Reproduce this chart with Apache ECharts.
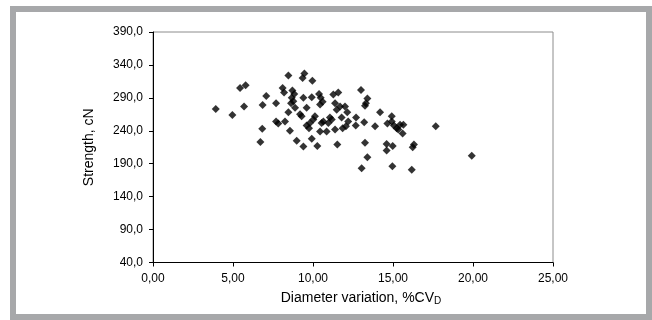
<!DOCTYPE html>
<html>
<head>
<meta charset="utf-8">
<script src="https://cdn.jsdelivr.net/npm/echarts@6/dist/echarts.min.js"></script>
<style>
    html, body { margin: 0; padding: 0; background: #fff; }
    #main { width: 652px; height: 320px; }
    #frame {
        position: absolute; left: 10px; top: 6px; width: 630px; height: 302px;
        border: 6px solid #a7a8aa; pointer-events: none;
    }
</style>
</head>
<body>
<div id="main"></div>
<div id="frame"></div>
<script>
// diameter variation, %CV_D
var cvD = [3.92, 4.96, 5.44, 5.79, 5.69, 6.71, 6.83, 6.85, 7.08, 7.69, 7.69, 7.83,
    8.46, 9.46, 9.35, 9.96, 8.10, 8.19, 8.71, 8.83, 8.67, 8.77, 8.63, 9.40, 9.92,
    10.38, 10.48, 10.60, 10.44, 11.27, 11.58, 13.00, 13.40, 13.31, 13.25, 14.19, 14.92,
    14.65, 14.92, 15.06, 15.23, 15.44, 15.65, 15.33, 15.60, 17.67, 13.88, 13.20,
    12.69, 12.67, 12.20, 11.79, 11.85, 12.06, 12.14, 12.00, 11.69, 11.48, 11.38,
    11.06, 11.17, 10.96, 11.38, 10.85, 10.54, 10.65, 10.44, 10.02, 9.81, 9.60, 9.75,
    10.12, 9.19, 9.29, 9.60, 8.88, 8.46, 8.25, 8.56, 8.98, 9.40, 9.92, 10.27, 11.52,
    13.25, 13.40, 13.04, 14.60, 14.98, 14.60, 14.96, 16.17, 16.23, 16.31, 19.92];
// strength, cN
var strength = [273, 264, 305, 309, 277, 223, 243, 279, 293, 282, 254, 251,
    324, 327, 320, 316, 305, 298, 301, 296, 290, 285, 282, 290, 291,
    296, 290, 284, 280, 295, 298, 302, 289, 282, 278, 268, 262,
    251, 254, 248, 244, 249, 249, 242, 236, 247, 247, 253,
    260, 248, 254, 260, 244, 247, 268, 277, 277, 272, 282,
    260, 257, 252, 242, 239, 252, 254, 239, 257, 252, 248, 244,
    262, 265, 262, 275, 275, 268, 254, 240, 225, 216, 228, 217, 219,
    222, 200, 183, 220, 217, 210, 186, 181, 215, 219, 202];

var xTicks = [0, 5, 10, 15, 20, 25];
var yTicks = [40, 90, 140, 190, 240, 290, 340, 390];

var points = [];
for (var i = 0; i < cvD.length; i++) {
    points.push([cvD[i], strength[i]]);
}

var myChart = echarts.init(document.getElementById('main'));

var option = {
    animation: false,
    textStyle: { fontFamily: 'Liberation Sans, Arial, sans-serif' },
    grid: {
        left: 153, right: 99, top: 32, bottom: 57.5,
        show: true, borderColor: '#8c8c8c', borderWidth: 1
    },
    xAxis: {
        type: 'value',
        min: xTicks[0], max: xTicks[xTicks.length - 1], interval: 5,
        name: '{a|Diameter variation, %CV}{b|D}',
        nameLocation: 'middle', nameGap: 28,
        nameTextStyle: {
            rich: {
                a: { fontSize: 14, color: '#000', fontFamily: 'Liberation Sans', padding: [0, 0, 0, 16] },
                b: { fontSize: 10, color: '#000', fontFamily: 'Liberation Sans', padding: [6, 0, 0, 0] }
            }
        },
        axisLine: { lineStyle: { color: '#000', width: 1 } },
        axisTick: { show: true, length: 4, inside: false, lineStyle: { color: '#000' } },
        axisLabel: {
            color: '#000', fontSize: 12, margin: 10,
            formatter: function (v) { return v.toFixed(2).replace('.', ','); }
        },
        splitLine: { show: false }
    },
    yAxis: {
        type: 'value',
        min: yTicks[0], max: yTicks[yTicks.length - 1], interval: 50,
        name: 'Strength, cN',
        nameLocation: 'middle', nameGap: 57, nameRotate: 90,
        nameTextStyle: { fontSize: 14, color: '#000' },
        axisLine: { show: true, lineStyle: { color: '#000', width: 1 } },
        axisTick: { show: true, length: 4, inside: false, lineStyle: { color: '#000' } },
        axisLabel: {
            color: '#000', fontSize: 12, margin: 10,
            formatter: function (v) { return v.toFixed(1).replace('.', ','); }
        },
        splitLine: { show: false }
    },
    series: [
        {
            type: 'scatter',
            symbol: 'diamond',
            symbolSize: 8,
            itemStyle: { color: '#000' },
            data: points
        }
    ]
};
myChart.setOption(option);
</script>
</body>
</html>
